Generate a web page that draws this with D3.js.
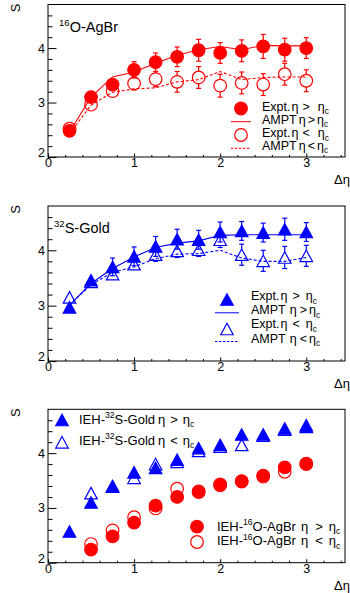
<!DOCTYPE html>
<html>
<head>
<meta charset="utf-8">
<script src="https://cdn.jsdelivr.net/npm/d3@7"></script>
<style>
body { margin: 0; background: #fff; }
svg { display: block; font-family: "Liberation Sans", Arial, sans-serif; }
</style>
</head>
<body>
<svg id="chart" width="350" height="593"></svg>
<script>
// x positions (delta eta)
const deta = [0.25, 0.5, 0.75, 1.0, 1.25, 1.5, 1.75, 2.0, 2.25, 2.5, 2.75, 3.0];
const xTicks = [0, 1, 2, 3];
const yTicks = [2, 3, 4];

// panel 1: 16O-AgBr
const oExptGt    = [2.48, 3.10, 3.33, 3.60, 3.74, 3.84, 3.96, 3.91, 3.95, 4.03, 3.97, 4.00];
const oExptGtErr = [0.05, 0.10, 0.10, 0.15, 0.17, 0.18, 0.20, 0.19, 0.20, 0.22, 0.21, 0.19];
const oExptLt    = [2.52, 2.96, 3.21, 3.35, 3.43, 3.38, 3.46, 3.31, 3.36, 3.33, 3.52, 3.40];
const oExptLtErr = [0.05, 0.07, 0.08, 0.12, 0.14, 0.19, 0.20, 0.21, 0.20, 0.20, 0.20, 0.20];
const oAmptGt    = [2.46, 3.10, 3.47, 3.56, 3.72, 3.87, 3.97, 4.03, 3.97, 4.05, 4.04, 4.04];
const oAmptLt    = [2.43, 2.95, 3.19, 3.25, 3.27, 3.38, 3.42, 3.57, 3.42, 3.46, 3.47, 3.47];

// panel 2: 32S-Gold
const sExptGt    = [2.97, 3.46, 3.70, 3.89, 4.07, 4.20, 4.19, 4.33, 4.35, 4.32, 4.38, 4.33];
const sExptGtErr = [0.03, 0.08, 0.16, 0.17, 0.18, 0.18, 0.17, 0.18, 0.17, 0.17, 0.20, 0.17];
const sExptLt    = [3.15, 3.43, 3.57, 3.75, 3.92, 3.99, 4.01, 4.19, 3.92, 3.81, 3.87, 3.90];
const sExptLtErr = [0.03, 0.05, 0.08, 0.10, 0.12, 0.12, 0.12, 0.14, 0.19, 0.19, 0.20, 0.19];
const sAmptGt    = [3.01, 3.40, 3.67, 3.88, 4.05, 4.13, 4.17, 4.27, 4.28, 4.28, 4.28, 4.28];
const sAmptLt    = [3.01, 3.38, 3.60, 3.70, 3.85, 3.93, 3.94, 4.00, 3.86, 3.80, 3.80, 3.87];

// panel 3: IEH
const iehSGt = [2.57, 3.10, 3.39, 3.65, 3.73, 3.88, 4.09, 4.15, 4.34, 4.34, 4.45, 4.48];
const iehSLt = [null, 3.27, 3.40, 3.55, 3.80, 3.84, 4.04, 4.12, 4.15, 4.32, 4.43, 4.51];
const iehOGt = [null, 2.24, 2.48, 2.73, 3.04, 3.20, 3.30, 3.43, 3.49, 3.59, 3.74, 3.81];
const iehOLt = [null, 2.34, 2.59, 2.83, 2.99, 3.35, 3.29, 3.41, 3.48, 3.57, 3.66, 3.80];

const RED = '#ff0000', BLUE = '#0000ff';
const svg = d3.select('#chart');
const left = 48, right = 345;
const x = d3.scaleLinear().domain([0, 3.45]).range([left, right]);
const minorX = d3.range(0, 3.45, 0.2).filter(v => Math.abs(v - Math.round(v)) > 1e-6);
const minorY = d3.range(2, 4.8, 0.2).filter(v => Math.abs(v - Math.round(v)) > 1e-6);

function circle(g, cx, cy, color, filled) {
    g.append('circle').attr('cx', cx).attr('cy', cy).attr('r', 6.3)
        .attr('fill', filled ? color : 'none').attr('stroke', color).attr('stroke-width', 1.2);
}
function triangle(g, cx, cy, color, filled) {
    const w = 12.5, h = 11.5;
    g.append('path')
        .attr('d', `M${cx},${cy - h / 2}L${cx + w / 2},${cy + h / 2}L${cx - w / 2},${cy + h / 2}Z`)
        .attr('fill', filled ? color : 'none').attr('stroke', color).attr('stroke-width', 1.2);
}

function makePanel(top, bottom) {
    const y = d3.scaleLinear().domain([2, 4.8]).range([bottom, top]);
    const g = svg.append('g');

    g.append('g').attr('transform', `translate(${left},0)`)
        .call(d3.axisLeft(y).tickValues(minorY).tickSizeInner(-4.5).tickSizeOuter(0).tickFormat(''))
        .call(a => a.select('.domain').remove());
    g.append('g').attr('transform', `translate(${left},0)`)
        .call(d3.axisLeft(y).tickValues(yTicks).tickSizeInner(-8.5).tickSizeOuter(0).tickPadding(3).tickFormat(d3.format('d')))
        .call(a => a.select('.domain').remove())
        .call(a => a.selectAll('text').attr('font-size', 12.5).attr('font-family', null)
            .attr('dy', d => d === 2 ? '-0.02em' : '0.32em'));

    g.append('g').attr('transform', `translate(0,${bottom})`)
        .call(d3.axisBottom(x).tickValues(minorX).tickSizeInner(-2).tickSizeOuter(0).tickFormat(''))
        .call(a => a.select('.domain').remove());
    g.append('g').attr('transform', `translate(0,${bottom})`)
        .call(d3.axisBottom(x).tickValues(xTicks).tickSizeInner(-3.5).tickSizeOuter(0).tickPadding(1.5).tickFormat(d3.format('d')))
        .call(a => a.select('.domain').remove())
        .call(a => a.selectAll('text').attr('font-size', 12.5).attr('font-family', null));

    g.append('rect').attr('x', left).attr('y', top).attr('width', right - left).attr('height', bottom - top)
        .attr('fill', 'none').attr('stroke', '#000').attr('stroke-width', 1);

    g.append('text').attr('transform', `translate(20,${top - 1}) rotate(-90)`)
        .attr('text-anchor', 'end').attr('font-size', 13).text('S');
    g.append('text').attr('x', 350).attr('y', bottom + 27).attr('text-anchor', 'end')
        .attr('font-size', 13).text('Δη');
    return {g, y};
}

function errorBars(p, vals, errs, color, r) {
    vals.forEach((v, i) => {
        if (v == null) return;
        const cx = x(deta[i]), cy = p.y(v), y1 = p.y(v + errs[i]), y2 = p.y(v - errs[i]);
        const e = p.g.append('g').attr('stroke', color).attr('stroke-width', 1.2);
        if (cy - y1 > r) {
            e.append('line').attr('x1', cx).attr('x2', cx).attr('y1', y1).attr('y2', cy - r);
            e.append('line').attr('x1', cx - 2.5).attr('x2', cx + 2.5).attr('y1', y1).attr('y2', y1);
        }
        if (y2 - cy > r) {
            e.append('line').attr('x1', cx).attr('x2', cx).attr('y1', cy + r).attr('y2', y2);
            e.append('line').attr('x1', cx - 2.5).attr('x2', cx + 2.5).attr('y1', y2).attr('y2', y2);
        }
    });
}

function curve(p, vals, color, dash) {
    p.g.append('path').datum(vals)
        .attr('d', d3.line().x((d, i) => x(deta[i])).y(d => p.y(d)))
        .attr('fill', 'none').attr('stroke', color).attr('stroke-width', 1.1)
        .attr('stroke-dasharray', dash ? '3,2' : null);
}

function markers(p, vals, shape, color, filled) {
    vals.forEach((v, i) => { if (v != null) shape(p.g, x(deta[i]), p.y(v), color, filled); });
}

// label parts: [text, 'sup'|'sub'|null, dx]
function label(g, lx, ly, parts, size) {
    const t = g.append('text').attr('x', lx).attr('y', ly).attr('font-size', size);
    let shift = 0;
    parts.forEach(([s, kind, dx]) => {
        const want = kind === 'sup' ? -size * 0.42 : kind === 'sub' ? size * 0.3 : 0;
        t.append('tspan').attr('dy', want - shift).attr('dx', dx || 0)
            .attr('font-size', kind ? size * 0.66 : size).text(s);
        shift = want;
    });
    return t;
}

// ---------- panel 1 ----------
const p1 = makePanel(4.5, 157);
curve(p1, oAmptGt, RED, false);
curve(p1, oAmptLt, RED, true);
errorBars(p1, oExptGt, oExptGtErr, RED, 6);
errorBars(p1, oExptLt, oExptLtErr, RED, 6);
markers(p1, oExptGt, circle, RED, true);
markers(p1, oExptLt, circle, RED, false);
label(p1.g, 59, 32, [['16', 'sup'], ['O-AgBr', null]], 14.5);

// ---------- panel 2 ----------
const p2 = makePanel(206, 361);
curve(p2, sAmptGt, BLUE, false);
curve(p2, sAmptLt, BLUE, true);
errorBars(p2, sExptGt, sExptGtErr, BLUE, 6);
errorBars(p2, sExptLt, sExptLtErr, BLUE, 6);
markers(p2, sExptGt, triangle, BLUE, true);
markers(p2, sExptLt, triangle, BLUE, false);
label(p2.g, 54, 233, [['32', 'sup'], ['S-Gold', null]], 14.5);

// ---------- panel 3 ----------
const p3 = makePanel(409.3, 562.7);
markers(p3, iehSGt, triangle, BLUE, true);
markers(p3, iehSLt, triangle, BLUE, false);
markers(p3, iehOGt, circle, RED, true);
markers(p3, iehOLt, circle, RED, false);

// ---------- legends ----------
function cond(op, d1, d2, d3) {
    return [['η', null, d1], [op, null, d2], ['η', null, d3], ['c', 'sub', 0]];
}
function legendRows(g, rows, mx, tx, size) {
    rows.forEach(r => {
        if (r.shape) r.shape(g, mx, r.my, r.color, r.filled);
        if (r.line) g.append('line').attr('x1', r.line[0]).attr('x2', r.line[1]).attr('y1', r.my).attr('y2', r.my)
            .attr('stroke', r.color).attr('stroke-width', 1).attr('stroke-dasharray', r.dash ? '2.5,1.5' : null);
        label(g, tx, r.ty, r.parts, size);
    });
}

legendRows(p1.g, [
    {shape: circle, color: RED, filled: true, my: 108.5, ty: 110.5, parts: [['Expt.', null], ...cond('>', 1, 4, 8)]},
    {line: [231, 251], color: RED, my: 121.7, ty: 123.5, parts: [['AMPT', null], ...cond('>', 2, 2, 2)]},
    {shape: circle, color: RED, filled: false, my: 135, ty: 137, parts: [['Expt.', null], ...cond('<', 1, 4, 8)]},
    {line: [231, 251], color: RED, dash: true, my: 148.3, ty: 149.5, parts: [['AMPT', null], ...cond('<', 2, 2, 2)]}
], 241, 262, 12.5);

legendRows(p2.g, [
    {shape: triangle, color: BLUE, filled: true, my: 299.5, ty: 300, parts: [['Expt.', null], ...cond('>', 1, 5, 6)]},
    {line: [215, 239], color: BLUE, my: 312.8, ty: 314, parts: [['AMPT', null], ...cond('>', 4, 3, 2)]},
    {shape: triangle, color: BLUE, filled: false, my: 329, ty: 328.2, parts: [['Expt.', null], ...cond('<', 1, 5, 6)]},
    {line: [215, 239], color: BLUE, dash: true, my: 341.5, ty: 342.5, parts: [['AMPT', null], ...cond('<', 4, 3, 2)]}
], 227, 251, 12.5);

legendRows(p3.g, [
    {shape: triangle, color: BLUE, filled: true, my: 420, ty: 423.5, parts: [['IEH-', null], ['32', 'sup'], ['S-Gold', null], ...cond('>', 3, 5, 5)]},
    {shape: triangle, color: BLUE, filled: false, my: 442.3, ty: 444.5, parts: [['IEH-', null], ['32', 'sup'], ['S-Gold', null], ...cond('<', 3, 5, 5)]}
], 62, 79, 13);

legendRows(p3.g, [
    {shape: circle, color: RED, filled: true, my: 526.7, ty: 530.5, parts: [['IEH-', null], ['16', 'sup'], ['O-AgBr', null], ...cond('>', 5, 7, 6)]},
    {shape: circle, color: RED, filled: false, my: 542, ty: 545, parts: [['IEH-', null], ['16', 'sup'], ['O-AgBr', null], ...cond('<', 5, 7, 6)]}
], 197, 217, 13);
</script>
</body>
</html>
